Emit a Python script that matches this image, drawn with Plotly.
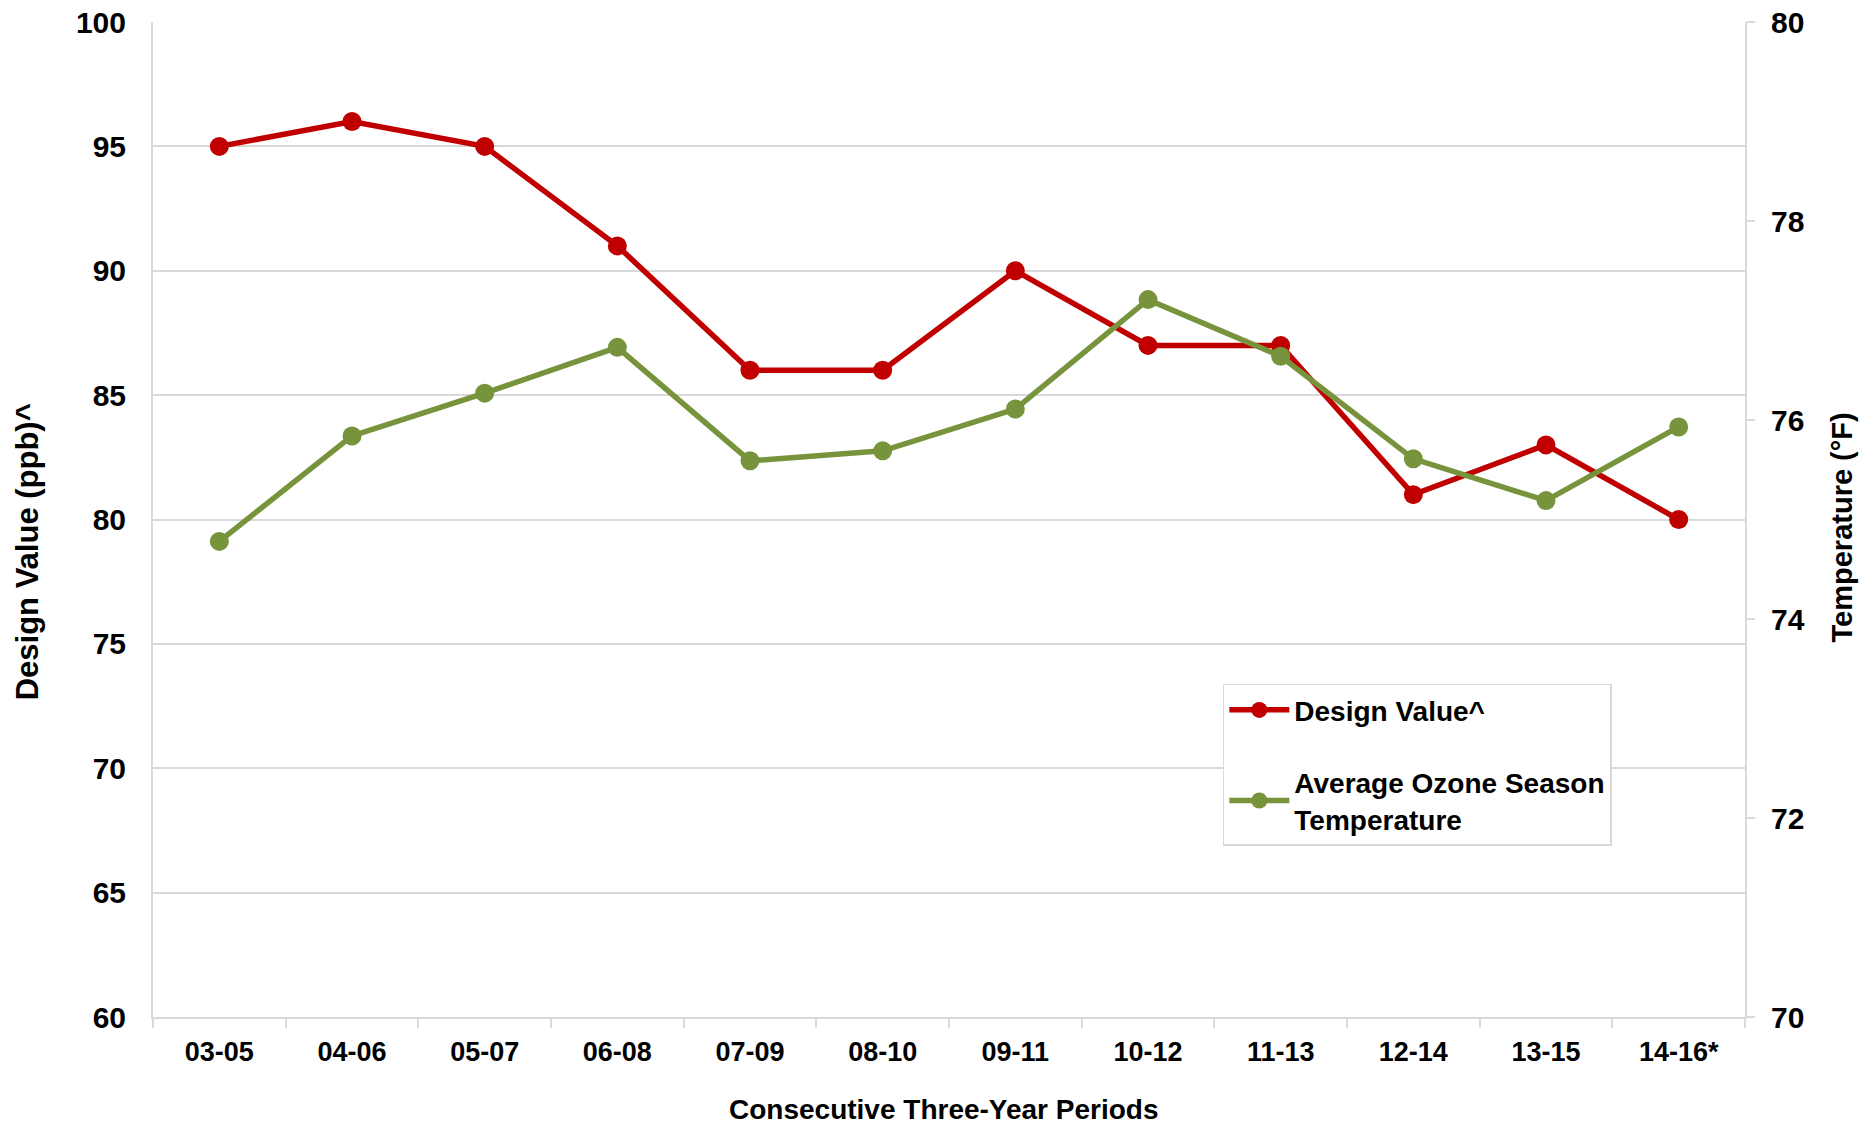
import plotly.graph_objects as go

periods = ["03-05", "04-06", "05-07", "06-08", "07-09", "08-10",
           "09-11", "10-12", "11-13", "12-14", "13-15", "14-16*"]
design_value = [95, 96, 95, 91, 86, 86, 90, 87, 87, 81, 83, 80]
avg_temp = [74.78, 75.84, 76.27, 76.73, 75.59, 75.69,
            76.11, 77.21, 76.64, 75.61, 75.19, 75.93]

RED = "#C00000"
GREEN = "#77933C"
GRID = "#d9d9d9"
FONT = "Liberation Sans, Arial, sans-serif"

fig = go.Figure()
fig.add_trace(go.Scatter(
    x=periods, y=design_value, name="Design Value^",
    mode="lines+markers", legendgroup="a",
    line=dict(color=RED, width=5.5),
    marker=dict(color=RED, size=19),
    yaxis="y",
))
fig.add_trace(go.Scatter(
    x=periods, y=avg_temp, name="Average Ozone Season<br>Temperature",
    mode="lines+markers", legendgroup="b",
    line=dict(color=GREEN, width=5.5),
    marker=dict(color=GREEN, size=19),
    yaxis="y2",
))

fig.update_layout(
    width=1870, height=1125,
    margin=dict(l=152.5, r=124.5, t=21.7, b=108.3),
    paper_bgcolor="white", plot_bgcolor="white",
    font=dict(family=FONT, size=27, color="black", weight="bold"),
    showlegend=True,
    legend=dict(
        x=0.672, y=0.335, xanchor="left", yanchor="top",
        bgcolor="white", bordercolor=GRID, borderwidth=1.5,
        font=dict(family=FONT, size=28, color="black", weight="bold"),
        tracegroupgap=33, itemwidth=60,
    ),
    xaxis=dict(
        type="category", automargin=False,
        range=[-0.5, len(periods) - 0.5],
        showline=True, linecolor=GRID, linewidth=2,
        ticks="outside", tickson="boundaries", ticklen=9, tickcolor=GRID, tickwidth=2,
        ticklabelstandoff=10, ticklabeloverflow="allow",
        showgrid=False,
        tickfont=dict(family=FONT, size=27, weight="bold"),
    ),
    yaxis=dict(
        range=[60, 100], dtick=5, automargin=False,
        showline=True, linecolor=GRID, linewidth=2,
        showgrid=True, gridcolor=GRID, gridwidth=2,
        ticks="", ticklabelstandoff=19, ticklabeloverflow="allow",
        tickfont=dict(family=FONT, size=30, weight="bold"),
        zeroline=False,
    ),
    yaxis2=dict(
        range=[70, 80], dtick=2, overlaying="y", side="right", automargin=False,
        showline=True, linecolor=GRID, linewidth=2,
        showgrid=False,
        ticks="outside", ticklen=8, tickcolor=GRID, tickwidth=2,
        ticklabelstandoff=10, ticklabeloverflow="allow",
        tickfont=dict(family=FONT, size=30, weight="bold"),
        zeroline=False,
    ),
    annotations=[
        dict(text="Design Value (ppb)^", xref="paper", yref="paper",
             x=0, y=0.467, xanchor="center", yanchor="middle", xshift=-126,
             textangle=-90, showarrow=False,
             font=dict(family=FONT, size=31, weight="bold", color="black")),
        dict(text="Temperature (°F)", xref="paper", yref="paper",
             x=1, y=0.492, xanchor="center", yanchor="middle", xshift=97,
             textangle=-90, showarrow=False,
             font=dict(family=FONT, size=29, weight="bold", color="black")),
        dict(text="Consecutive Three-Year Periods", xref="paper", yref="paper",
             x=0.497, y=0, xanchor="center", yanchor="middle", yshift=-92,
             showarrow=False,
             font=dict(family=FONT, size=28, weight="bold", color="black")),
    ],
)

fig.write_html("out.html",
               config={"displayModeBar": False},
               post_script="document.body.style.margin='0';document.body.style.overflow='hidden';")
